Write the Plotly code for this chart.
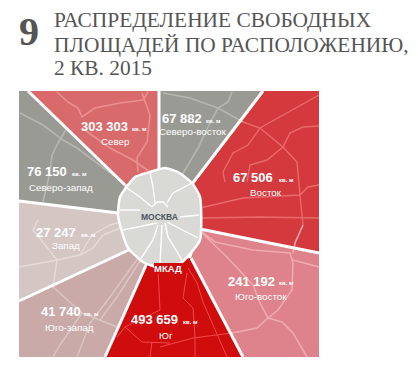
import plotly.graph_objects as go

W, H = 418, 366

# ---- text data
heading_number = "9"
heading_lines = ["РАСПРЕДЕЛЕНИЕ СВОБОДНЫХ", "ПЛОЩАДЕЙ ПО РАСПОЛОЖЕНИЮ,", "2 КВ. 2015"]
heading_y = [20, 45, 68]
district_names = ["Север", "Северо-восток", "Восток", "Юго-восток", "Юг", "Юго-запад", "Запад", "Северо-запад"]
district_values = ["303 303", "67 882", "67 506", "241 192", "493 659", "41 740", "27 247", "76 150"]
unit = "кв. м"
value_x = [81, 162, 233, 228, 131, 41, 36, 27]
value_y = [126, 118, 177, 281, 319, 311, 232, 171]
unit_x = [132, 206, 279, 279, 183, 84, 81, 72]
unit_y = [129, 121, 180, 283, 322, 314, 235, 174]
name_x = [115, 192, 266, 261, 166, 69, 66, 61]
name_y = [141, 131, 192, 296, 335, 327, 245, 187]

# ---- map geometry
sector_colors = ["#d96a6b", "#9a9a94", "#d4393d", "#de838b", "#d00d0d", "#c9aaa8", "#d3c6c3", "#9a9a94"]
sector_n = [(28, 91), (159, 91), (159, 172), (125, 185)]
sector_ne = [(159, 91), (263, 91), (192, 184), (159, 170)]
sector_e = [(263, 91), (319, 91), (319, 253), (200, 229), (192, 184)]
sector_se = [(319, 253), (319, 357), (243, 357), (191, 258), (200, 229)]
sector_s = [(243, 357), (105, 357), (147, 263), (191, 258)]
sector_sw = [(105, 357), (19, 357), (19, 301), (133, 248), (147, 263)]
sector_w = [(19, 301), (19, 201), (118, 213), (133, 248)]
sector_nw = [(19, 91), (28, 91), (125, 185), (118, 213), (19, 201)]
sectors = [sector_n, sector_ne, sector_e, sector_se, sector_s, sector_sw, sector_w, sector_nw]

roads_n = [
    [(57, 92), (68, 102), (78, 108), (82, 117), (95, 108), (120, 103), (143, 100), (148, 92)],
    [(142, 93), (150, 115), (147, 142), (137, 158), (138, 172)],
    [(82, 128), (110, 148), (133, 160), (150, 172)],
]
roads_gray = [
    [(20, 113), (43, 125), (63, 140), (77, 148), (93, 160), (120, 180)],
    [(67, 128), (58, 143), (52, 155), (50, 172), (43, 202)],
    [(163, 93), (190, 98), (218, 108), (243, 122)],
    [(232, 92), (228, 102), (218, 108), (210, 123), (198, 148), (188, 165), (182, 175)],
]
roads_e = [
    [(243, 122), (260, 128), (283, 147), (297, 162), (300, 195), (303, 225)],
    [(319, 95), (297, 107), (277, 118), (260, 128), (248, 145), (233, 153), (223, 172), (225, 182)],
    [(319, 126), (303, 127), (290, 133), (283, 147), (267, 160), (250, 165), (247, 182)],
    [(200, 208), (243, 198), (300, 195), (308, 187), (319, 185)],
    [(200, 218), (260, 217), (319, 218)],
]
roads_se = [
    [(202, 232), (215, 242), (253, 250), (290, 253), (293, 263), (292, 290), (278, 310), (268, 318), (260, 303), (253, 285), (227, 257), (202, 233)],
    [(293, 260), (319, 267)],
    [(232, 333), (257, 328), (268, 318), (282, 322), (293, 333), (307, 357)],
    [(303, 225), (295, 243), (293, 253)],
]
roads_s = [
    [(188, 268), (197, 283), (203, 302), (215, 330), (227, 357)],
    [(187, 273), (183, 298), (193, 308), (195, 337), (195, 357)],
    [(232, 333), (193, 338), (160, 347)],
    [(158, 270), (160, 310), (125, 327), (117, 337)],
    [(125, 327), (142, 342), (170, 343)],
    [(152, 342), (150, 357)],
]
roads_w = [
    [(19, 267), (57, 260), (80, 255), (93, 248), (103, 235), (123, 227)],
    [(38, 220), (33, 230), (57, 260), (53, 287)],
    [(80, 255), (92, 235), (110, 225), (120, 222)],
]
roads_sw = [
    [(53, 287), (82, 313), (117, 327)],
    [(138, 258), (110, 297), (90, 323), (77, 357)],
    [(142, 258), (117, 297), (100, 320)],
    [(82, 313), (60, 345), (53, 357)],
]
roads_center = [
    [(150, 172), (153, 187), (155, 203)],
    [(192, 183), (173, 193), (167, 203)],
    [(127, 188), (140, 197), (152, 207)],
    [(120, 210), (140, 210)],
    [(199, 215), (180, 217)],
    [(123, 230), (150, 225), (157, 223)],
    [(140, 260), (153, 240), (158, 225)],
    [(160, 263), (162, 225)],
    [(182, 260), (168, 237), (165, 223)],
    [(198, 238), (177, 227), (167, 222)],
    [(152, 207), (157, 202), (163, 202), (168, 207)],
]
road_groups = [
    (roads_n, "#ea8f90", 1.6), (roads_gray, "#b6b6b0", 1.6), (roads_e, "#ea6a6c", 1.4),
    (roads_se, "#f0aab0", 1.6), (roads_s, "#f2474a", 1.0), (roads_w, "#e6dcda", 1.4),
    (roads_sw, "#dcc6c4", 1.4),
]
separators = [
    [(28, 91), (125, 185)], [(159, 91), (159, 172)], [(263, 91), (192, 184)],
    [(200, 229), (319, 253)], [(191, 258), (243, 357)], [(147, 263), (105, 357)],
    [(133, 248), (19, 301)], [(19, 201), (118, 213)],
]
moscow = [(150, 172), (165, 168), (178, 172), (192, 183), (200, 197), (200, 240), (182, 262),
          (160, 268), (143, 262), (128, 248), (122, 232), (118, 215), (120, 197), (128, 185), (135, 177)]

fig = go.Figure()


def xs(p):
    return [a for a, _ in p]


def ys(p):
    return [b for _, b in p]


for poly, col in zip(sectors, sector_colors):
    fig.add_trace(go.Scatter(x=xs(poly) + xs(poly)[:1], y=ys(poly) + ys(poly)[:1], mode="lines",
                             fill="toself", fillcolor=col, line=dict(width=0, color=col), hoverinfo="skip"))
for group, col, w in road_groups:
    for r in group:
        fig.add_trace(go.Scatter(x=xs(r), y=ys(r), mode="lines", line=dict(color=col, width=w), hoverinfo="skip"))
for s in separators:
    fig.add_trace(go.Scatter(x=xs(s), y=ys(s), mode="lines", line=dict(color="white", width=3), hoverinfo="skip"))
fig.add_trace(go.Scatter(x=xs(moscow) + xs(moscow)[:1], y=ys(moscow) + ys(moscow)[:1], mode="lines", fill="toself",
                         fillcolor="#d9dad6", line=dict(color="white", width=2.5, shape="spline", smoothing=0.5),
                         hoverinfo="skip"))
for r in roads_center:
    fig.add_trace(go.Scatter(x=xs(r), y=ys(r), mode="lines", line=dict(color="white", width=1.4), hoverinfo="skip"))

ann = []


def text(x, y, t, size, color, family="Liberation Sans", anchor="left", **kw):
    ann.append(dict(x=x, y=y, text=t, xref="x", yref="y", showarrow=False, xanchor=anchor, yanchor="middle",
                    font=dict(family=family, size=size, color=color), borderpad=0, borderwidth=0, **kw))


text(19, 31, "<b>" + heading_number + "</b>", 40, "#555555", "Liberation Serif")
for line, y in zip(heading_lines, heading_y):
    text(54, y, line, 21.4, "#555555", "Liberation Serif")
for i in range(8):
    text(value_x[i], value_y[i], "<b>" + district_values[i] + "</b>", 13, "white")
    text(unit_x[i], unit_y[i], "<b>" + unit + "</b>", 6, "white")
    text(name_x[i], name_y[i], district_names[i], 9.8, "white", anchor="center")
text(159, 217, "<b>МОСКВА</b>", 8.5, "#4d5560", anchor="center")
text(168, 268, "<b>МКАД</b>", 9.5, "white", anchor="center", bgcolor="#d00d0d")

fig.update_layout(
    width=W, height=H, margin=dict(l=0, r=0, t=0, b=0), showlegend=False,
    paper_bgcolor="white", plot_bgcolor="white", annotations=ann,
    xaxis=dict(range=[0, W], visible=False, fixedrange=True),
    yaxis=dict(range=[H, 0], visible=False, fixedrange=True),
)
fig.write_html("out.html", config={"displayModeBar": False},
               post_script="document.body.style.margin='0';document.documentElement.style.overflow='hidden';")
